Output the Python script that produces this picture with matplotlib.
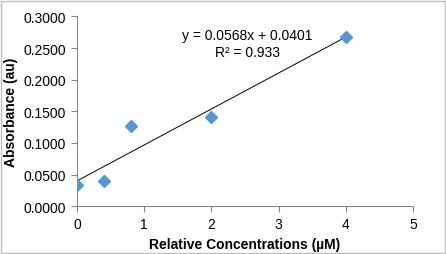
#!/usr/bin/env python
"""
absorbance vs relative concentration, with a linear trendline
"""

import numpy as np
from matplotlib import pyplot as plt

# measured data
concentration = [0, 0.4, 0.8, 2, 4]
absorbance = [0.0341, 0.0395, 0.1263, 0.1405, 0.2678]

# trendline as printed on the chart
slope = 0.0568
intercept = 0.0401
r_squared = 0.933

x_ticks = [0, 1, 2, 3, 4, 5]
y_ticks = [0.0, 0.05, 0.10, 0.15, 0.20, 0.25, 0.30]

plt.rcParams["font.family"] = ["Liberation Sans", "DejaVu Sans"]

fig = plt.figure(figsize=(4.46, 2.55), dpi=100)
ax = fig.add_axes([0.1726, 0.187, 0.7534, 0.745])

# trendline over the data range
xs = np.array([min(concentration), max(concentration)])
ax.plot(xs, slope * xs + intercept, color="black", linewidth=0.7, zorder=2)

# data points
ax.plot(concentration, absorbance, linestyle="none", marker="D",
        markersize=6.3, color="#5597D3", markeredgecolor="#5597D3",
        zorder=3)

# equation label
ax.text(0.508, 0.857, f"y = {slope:.4f}x + {intercept:.4f}\n"
        f"R² = {r_squared}", transform=ax.transAxes, ha="center",
        va="center", fontsize=10, linespacing=1.25)

ax.set_xlim(0, 5)
ax.set_ylim(0, 0.3)
ax.set_xticks(x_ticks)
ax.set_yticks(y_ticks)
ax.set_yticklabels([f"{v:.4f}" for v in y_ticks])
ax.tick_params(direction="out", length=4, width=0.8, color="#868686",
               labelsize=10, pad=4)

# only the left and bottom axis lines
for side in ["top", "right"]:
    ax.spines[side].set_visible(False)
for side in ["left", "bottom"]:
    ax.spines[side].set_color("#868686")
    ax.spines[side].set_linewidth(0.8)

ax.set_xlabel("Relative Concentrations (µM)", fontsize=10,
              fontweight="bold", labelpad=4)
ax.set_ylabel("Absorbance (au)", fontsize=10, fontweight="bold",
              labelpad=4)

# outer chart border
fig.patches.append(plt.Rectangle((0.003, 0.004), 0.994, 0.99,
                                 transform=fig.transFigure, fill=False,
                                 edgecolor="#BFBFBF", linewidth=1))

fig.savefig("out.png", dpi=100)
